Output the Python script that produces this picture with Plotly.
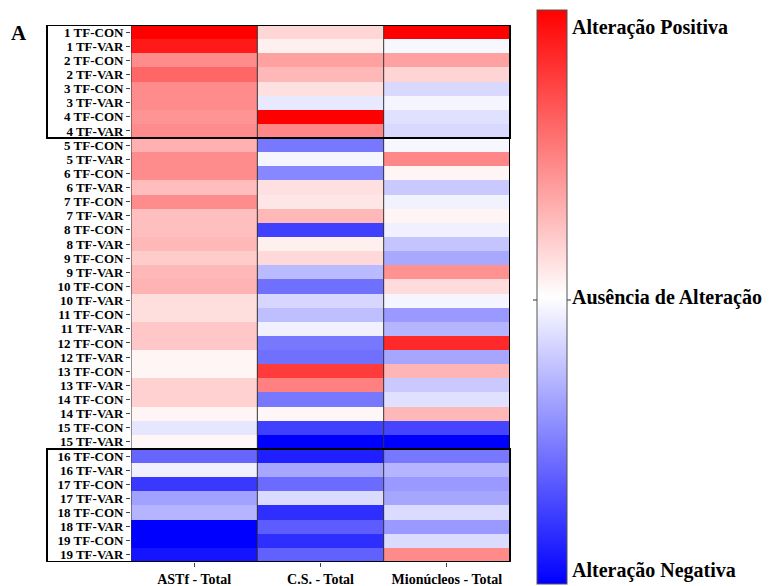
import plotly.graph_objects as go

rows = []
for i in range(1, 20):
    rows.append(f"{i} TF-CON")
    rows.append(f"{i} TF-VAR")

columns = ["ASTf - Total", "C.S. - Total", "Mionúcleos - Total"]

astf = [1.0, 0.9, 0.45, 0.6, 0.45, 0.45, 0.42, 0.45,
        0.31, 0.45, 0.45, 0.26, 0.45, 0.25, 0.25, 0.28,
        0.2, 0.28, 0.3, 0.13, 0.13, 0.22, 0.22, 0.04,
        0.04, 0.18, 0.18, 0.04, -0.1, 0.03,
        -0.6, -0.06, -0.78, -0.37, -0.29, -1.0, -1.0, -0.92]

cs = [0.16, 0.06, 0.37, 0.28, 0.12, -0.09, 1.0, 0.47,
      -0.53, -0.04, -0.47, 0.12, 0.1, 0.28, -0.75, 0.06,
      0.15, -0.27, -0.56, -0.16, -0.25, -0.06, -0.53, -0.56,
      0.77, 0.5, -0.53, 0.03, -0.75, -1.0,
      -0.88, -0.35, -0.58, -0.14, -0.82, -0.64, -0.82, -0.62]

mio = [1.0, -0.03, 0.37, 0.17, -0.15, -0.04, -0.12, -0.15,
       -0.03, 0.47, 0.04, -0.21, -0.05, 0.04, -0.06, -0.23,
       -0.34, 0.43, 0.14, -0.04, -0.4, -0.29, 0.84, -0.35,
       0.29, -0.21, -0.12, 0.28, -0.73, -1.0,
       -0.53, -0.29, -0.4, -0.35, -0.14, -0.4, -0.14, 0.46]

colorbar_labels = ["Alteração Positiva", "Ausência de Alteração", "Alteração Negativa"]
colorbar_vals = [0.94, 0.0, -0.95]

z = [[a, c, m] for a, c, m in zip(astf, cs, mio)]
n = len(rows)

FONT = "Liberation Serif"

fig = go.Figure(go.Heatmap(
    z=z,
    x=list(range(len(columns))),
    y=list(range(n)),
    zmin=-1, zmax=1,
    colorscale=[[0, "#0000FF"], [0.5, "#FFFFFF"], [1, "#FF0000"]],
    colorbar=dict(
        x=1.0712, xanchor="left", xpad=0,
        y=0.4935, yanchor="middle", ypad=0,
        len=574, lenmode="pixels",
        thickness=30, thicknessmode="pixels",
        outlinewidth=1, outlinecolor="#555555",
        tickvals=colorbar_vals, ticktext=colorbar_labels,
        ticks="", ticklabelposition="outside",
        tickfont=dict(family=FONT, size=20, color="black", weight="bold"),
    ),
))

fig.update_xaxes(
    range=[-0.5, 2.5],
    tickvals=list(range(len(columns))), ticktext=columns,
    ticks="outside", ticklen=4, tickcolor="#444",
    tickfont=dict(family=FONT, size=14, color="black", weight="bold"),
    showgrid=False, zeroline=False,
)
fig.update_yaxes(
    range=[n - 0.5, -0.5],
    tickvals=list(range(n)), ticktext=rows,
    ticks="outside", ticklen=4, tickcolor="#444",
    tickfont=dict(family=FONT, size=13, color="black", weight="bold"),
    showgrid=False, zeroline=False,
)

shapes = []
for xv in [0.5, 1.5]:
    shapes.append(dict(type="line", xref="x", yref="y", x0=xv, x1=xv, y0=-0.5, y1=n - 0.5,
                       line=dict(color="#333", width=1)))
shapes.append(dict(type="line", xref="x", yref="y", x0=-0.5, x1=-0.5, y0=-0.5, y1=n - 0.5,
                   line=dict(color="#333", width=1)))
shapes.append(dict(type="line", xref="x", yref="y", x0=2.5, x1=2.5, y0=-0.5, y1=n - 0.5,
                   line=dict(color="black", width=2)))
xl = (47 - 131) / 379
for y0, y1 in [(-0.5, 7.5), (29.5, 37.5)]:
    shapes.append(dict(type="rect", xref="paper", yref="y", x0=xl, x1=1, y0=y0, y1=y1,
                       line=dict(color="black", width=2)))
ymid = (562 - 300) / 537
shapes.append(dict(type="line", xref="paper", yref="paper", x0=(533 - 131) / 379, x1=(537 - 131) / 379,
                   y0=ymid, y1=ymid, line=dict(color="#333", width=1)))
shapes.append(dict(type="line", xref="paper", yref="paper", x0=(567 - 131) / 379, x1=(571 - 131) / 379,
                   y0=ymid, y1=ymid, line=dict(color="#333", width=1)))

fig.update_layout(
    width=769, height=586,
    margin=dict(l=131, r=259, t=25, b=24, autoexpand=False),
    plot_bgcolor="white", paper_bgcolor="white",
    shapes=shapes,
    annotations=[dict(text="A", xref="paper", yref="paper",
                      x=(9 - 131) / 379, y=(562 - 33) / 537,
                      xanchor="left", yanchor="middle", showarrow=False,
                      font=dict(family=FONT, size=21, color="black", weight="bold"))],
)

fig.write_html("out.html", config={"displayModeBar": False},
               post_script="document.body.style.margin='0';document.body.style.overflow='hidden';")
